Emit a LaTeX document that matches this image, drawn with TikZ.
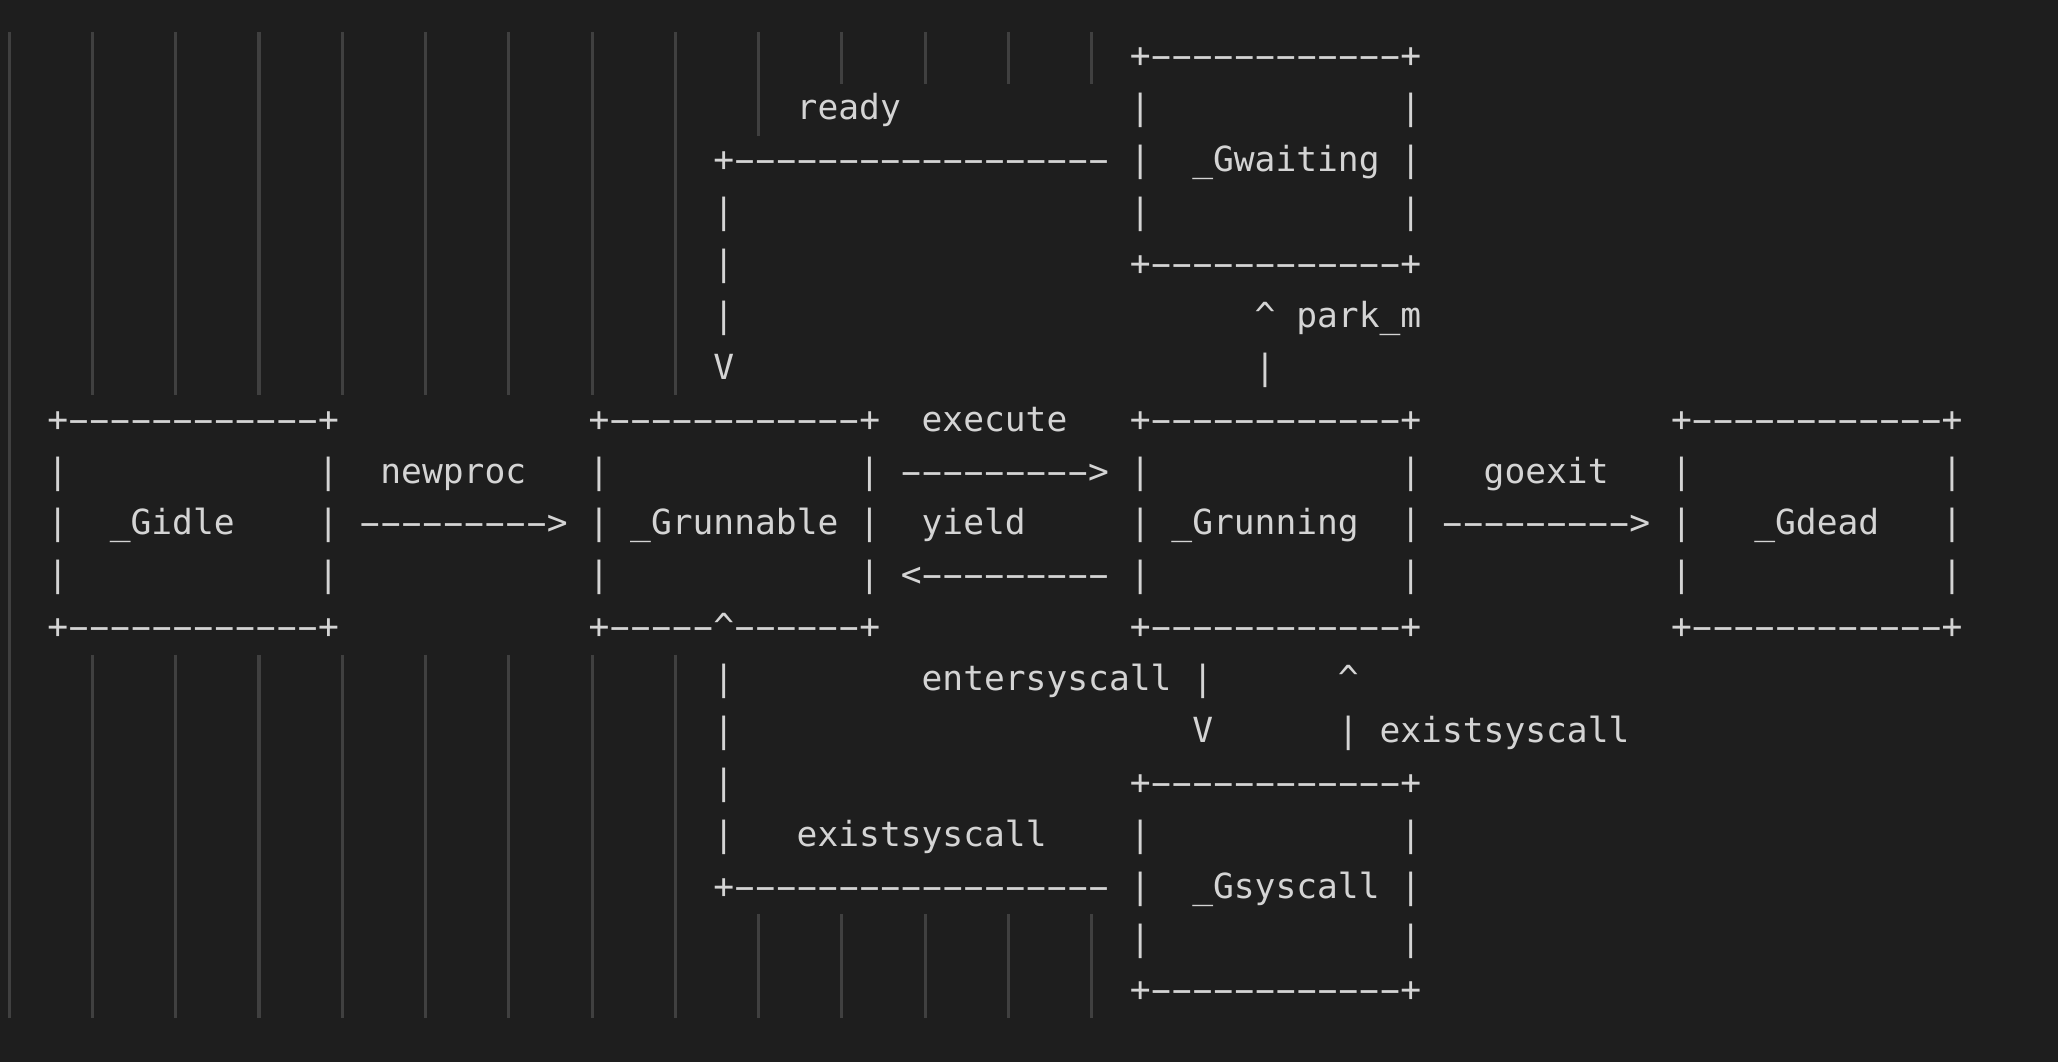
\documentclass[tikz,border=0pt]{standalone}
\usepackage{fontspec}
\setmonofont{DejaVu Sans Mono}[Ligatures=TeXOff]
\usepackage{tikz}
\definecolor{editorbg}{HTML}{1E1E1E}
\definecolor{editorfg}{HTML}{D4D4D4}
\definecolor{guidegray}{HTML}{404040}
\newcommand\dashrun[1]{\foreach\i in {1,...,#1}{\makebox[0.60205em]{\scalebox{1.9}[1]{-}}}}
\tikzset{
  ascii/.style={anchor=base west,inner sep=0pt,outer sep=0pt,text=editorfg,
    font=\ttfamily\fontsize{15.81}{23.72}\selectfont},
  guide/.style={draw=guidegray,line width=1.4pt}
}

\begin{document}
\begin{tikzpicture}[x=9.516pt,y=23.72pt]
\fill[editorbg] (-2.274,1.310) rectangle (96.59,-19.155);
\useasboundingbox (-2.274,1.310) rectangle (96.59,-19.155);

\draw[guide] (-1.833,0.693) -- (-1.833,-18.307);
\foreach \k in {1,...,8} {
  \draw[guide] ({4*\k-1.833},0.693) -- ++(0,-7);
  \draw[guide] ({4*\k-1.833},-11.307) -- ++(0,-7);
}
\draw[guide] (34.167,0.693) -- ++(0,-2);
\foreach \k in {10,...,13}
  \draw[guide] ({4*\k-1.833},0.693) -- ++(0,-1);
\foreach \k in {9,...,13}
  \draw[guide] ({4*\k-1.833},-16.307) -- ++(0,-2);

\foreach \c/\r in {52/1,65/1,52/2,32/3,52/3,65/3,32/4,32/5,58/6,
  0/8,13/8,26/8,39/8,52/8,65/8,78/8,91/8,
  0/9,13/9,26/9,52/9,65/9,78/9,91/9,
  0/10,13/10,26/10,39/10,52/10,65/10,78/10,91/10,
  32/12,32/13,32/14,32/15,52/15,65/15,52/16,52/17,65/17}
  \node[ascii] (bar-\c-\r) at (\c,-\r) {|};

\node[ascii] (waittop) at (52,0) {+\dashrun{12}+};
\node[ascii] (readylbl) at (36,-1) {ready};
\node[ascii] (readyline) at (32,-2) {+\dashrun{18}};
\node[ascii] (gwaiting) at (55,-2) {\_Gwaiting |};
\node[ascii] (waitbot) at (52,-4) {+\dashrun{12}+};
\node[ascii] (parkm) at (58,-5) {\textasciicircum{} park\_m};
\node[ascii] (readyv) at (32,-6) {V};

\node[ascii] (idletop) at (0,-7) {+\dashrun{12}+};
\node[ascii] (runnabletop) at (26,-7) {+\dashrun{12}+};
\node[ascii] (execlbl) at (42,-7) {execute};
\node[ascii] (runningtop) at (52,-7) {+\dashrun{12}+};
\node[ascii] (deadtop) at (78,-7) {+\dashrun{12}+};

\node[ascii] (newproclbl) at (16,-8) {newproc};
\node[ascii] (execarrow) at (41,-8) {\dashrun{9}>};
\node[ascii] (goexitlbl) at (69,-8) {goexit};

\node[ascii] (gidle) at (3,-9) {\_Gidle};
\node[ascii] (newprocarrow) at (15,-9) {\dashrun{9}>};
\node[ascii] (grunnable) at (28,-9) {\_Grunnable |};
\node[ascii] (yieldlbl) at (42,-9) {yield};
\node[ascii] (grunning) at (54,-9) {\_Grunning};
\node[ascii] (goexitarrow) at (67,-9) {\dashrun{9}>};
\node[ascii] (gdead) at (82,-9) {\_Gdead};

\node[ascii] (yieldarrow) at (41,-10) {<\dashrun{9}};

\node[ascii] (idlebot) at (0,-11) {+\dashrun{12}+};
\node[ascii] (runnablebot) at (26,-11) {+\dashrun{5}\textasciicircum\dashrun{6}+};
\node[ascii] (runningbot) at (52,-11) {+\dashrun{12}+};
\node[ascii] (deadbot) at (78,-11) {+\dashrun{12}+};

\node[ascii] (enterlbl) at (42,-12) {entersyscall |};
\node[ascii] (exitup) at (62,-12) {\textasciicircum};
\node[ascii] (enterv) at (55,-13) {V};
\node[ascii] (exitlbl) at (62,-13) {| existsyscall};
\node[ascii] (syscalltop) at (52,-14) {+\dashrun{12}+};
\node[ascii] (exitlbltwo) at (36,-15) {existsyscall};
\node[ascii] (exitline) at (32,-16) {+\dashrun{18}};
\node[ascii] (gsyscall) at (55,-16) {\_Gsyscall |};
\node[ascii] (syscallbot) at (52,-18) {+\dashrun{12}+};
\end{tikzpicture}
\end{document}
